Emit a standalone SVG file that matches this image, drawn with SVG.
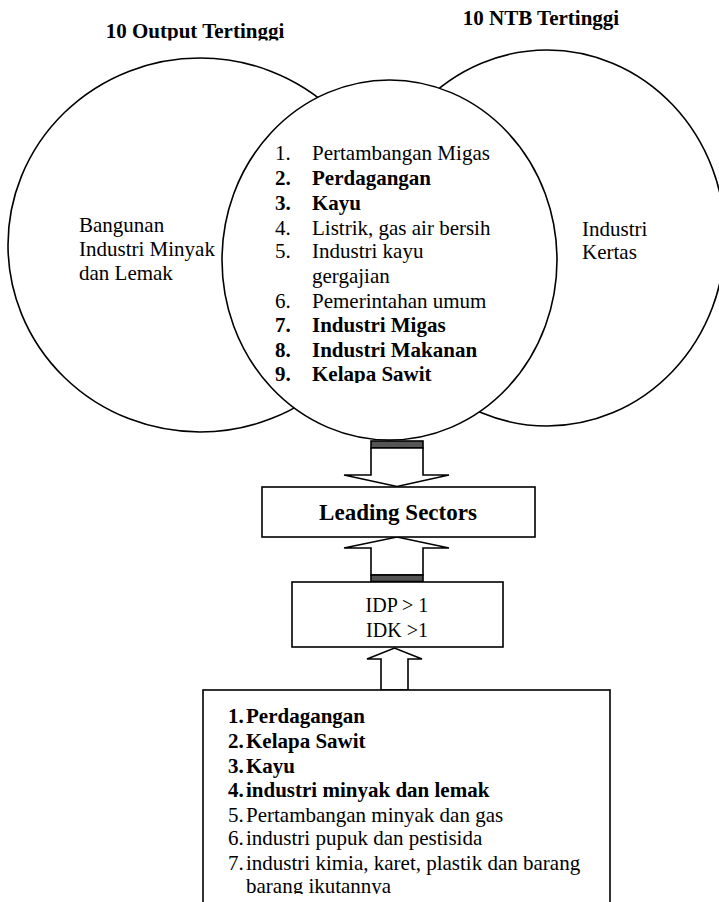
<svg xmlns="http://www.w3.org/2000/svg" width="719" height="902" viewBox="0 0 719 902">
<style>
text{font-family:"Liberation Serif","Times New Roman",serif;fill:#000}
.t{font-size:21px}
.b{font-weight:bold}
.shape{fill:#fff;stroke:#000;stroke-width:1.6}
.bar{fill:#555;stroke:#000;stroke-width:1.6}
</style>
<defs>
<clipPath id="clipTitle"><rect x="0" y="0" width="719" height="40.5"/></clipPath>
<clipPath id="clipList"><rect x="0" y="0" width="719" height="383"/></clipPath>
<clipPath id="clipBottom"><rect x="0" y="0" width="719" height="894"/></clipPath>
</defs>
<rect width="719" height="902" fill="#fff"/>
<g id="title-output"><text class="t b" x="195" y="38" text-anchor="middle" clip-path="url(#clipTitle)">10 Output Tertinggi</text></g>
<g id="title-ntb"><text class="t b" x="541" y="25" text-anchor="middle">10 NTB Tertinggi</text></g>
<g id="ellipse-output">
<ellipse class="shape" cx="200" cy="245" rx="192" ry="187"/>
<text class="t" x="79" y="232">Bangunan</text>
<text class="t" x="79" y="256">Industri Minyak</text>
<text class="t" x="79" y="280">dan Lemak</text>
</g>
<g id="ellipse-ntb">
<ellipse class="shape" cx="547" cy="238" rx="178" ry="188"/>
<text class="t" x="582" y="236">Industri</text>
<text class="t" x="582" y="259">Kertas</text>
</g>
<g id="ellipse-both">
<ellipse class="shape" cx="389.5" cy="260" rx="167.5" ry="180"/>
<g clip-path="url(#clipList)">
<text class="t" x="275" y="160">1.</text><text class="t" x="312" y="160">Pertambangan Migas</text>
<text class="t b" x="275" y="185">2.</text><text class="t b" x="312" y="185">Perdagangan</text>
<text class="t b" x="275" y="210">3.</text><text class="t b" x="312" y="210">Kayu</text>
<text class="t" x="275" y="235">4.</text><text class="t" x="312" y="235">Listrik, gas air bersih</text>
<text class="t" x="275" y="258">5.</text><text class="t" x="312" y="258">Industri kayu</text>
<text class="t" x="312" y="283">gergajian</text>
<text class="t" x="275" y="308">6.</text><text class="t" x="312" y="308">Pemerintahan umum</text>
<text class="t b" x="275" y="332">7.</text><text class="t b" x="312" y="332">Industri Migas</text>
<text class="t b" x="275" y="357">8.</text><text class="t b" x="312" y="357">Industri Makanan</text>
<text class="t b" x="275" y="381">9.</text><text class="t b" x="312" y="381">Kelapa Sawit</text>
</g>
</g>
<g id="connectors">
<rect class="bar" x="371" y="441" width="52" height="7"/>
<polygon class="shape" points="371,448 371,475 344,475 397,486.5 449,475 423,475 423,448"/>
<polygon class="shape" points="371,575 371,548 344,548 397,537 449,548 423,548 423,575"/>
<rect class="bar" x="371" y="575" width="52" height="6.5"/>
<polygon class="shape" points="381,690 381,659 367,659 394.5,648 422,659 408,659 408,690"/>
</g>
<g id="leading">
<rect class="shape" x="262" y="487" width="273" height="50"/>
<text x="398" y="520" text-anchor="middle" font-size="23" font-weight="bold">Leading Sectors</text>
</g>
<g id="idp">
<rect class="shape" x="292" y="582" width="211" height="65"/>
<text x="397" y="612" text-anchor="middle" font-size="20">IDP &gt; 1</text>
<text x="397" y="637" text-anchor="middle" font-size="20">IDK &gt;1</text>
</g>
<g id="sectors">
<rect class="shape" x="203" y="690" width="407" height="230"/>
<g clip-path="url(#clipBottom)">
<text class="t b" x="228" y="723">1.</text><text class="t b" x="246" y="723">Perdagangan</text>
<text class="t b" x="228" y="748">2.</text><text class="t b" x="246" y="748">Kelapa Sawit</text>
<text class="t b" x="228" y="773">3.</text><text class="t b" x="246" y="773">Kayu</text>
<text class="t b" x="228" y="797">4.</text><text class="t b" x="246" y="797">industri minyak dan lemak</text>
<text class="t" x="228" y="822">5.</text><text class="t" x="246" y="822">Pertambangan minyak dan gas</text>
<text class="t" x="228" y="845">6.</text><text class="t" x="246" y="845">industri pupuk dan pestisida</text>
<text class="t" x="228" y="870">7.</text><text class="t" x="246" y="870">industri kimia, karet, plastik dan barang</text>
<text class="t" x="246" y="893">barang ikutannya</text>
</g>
</g>
</svg>
